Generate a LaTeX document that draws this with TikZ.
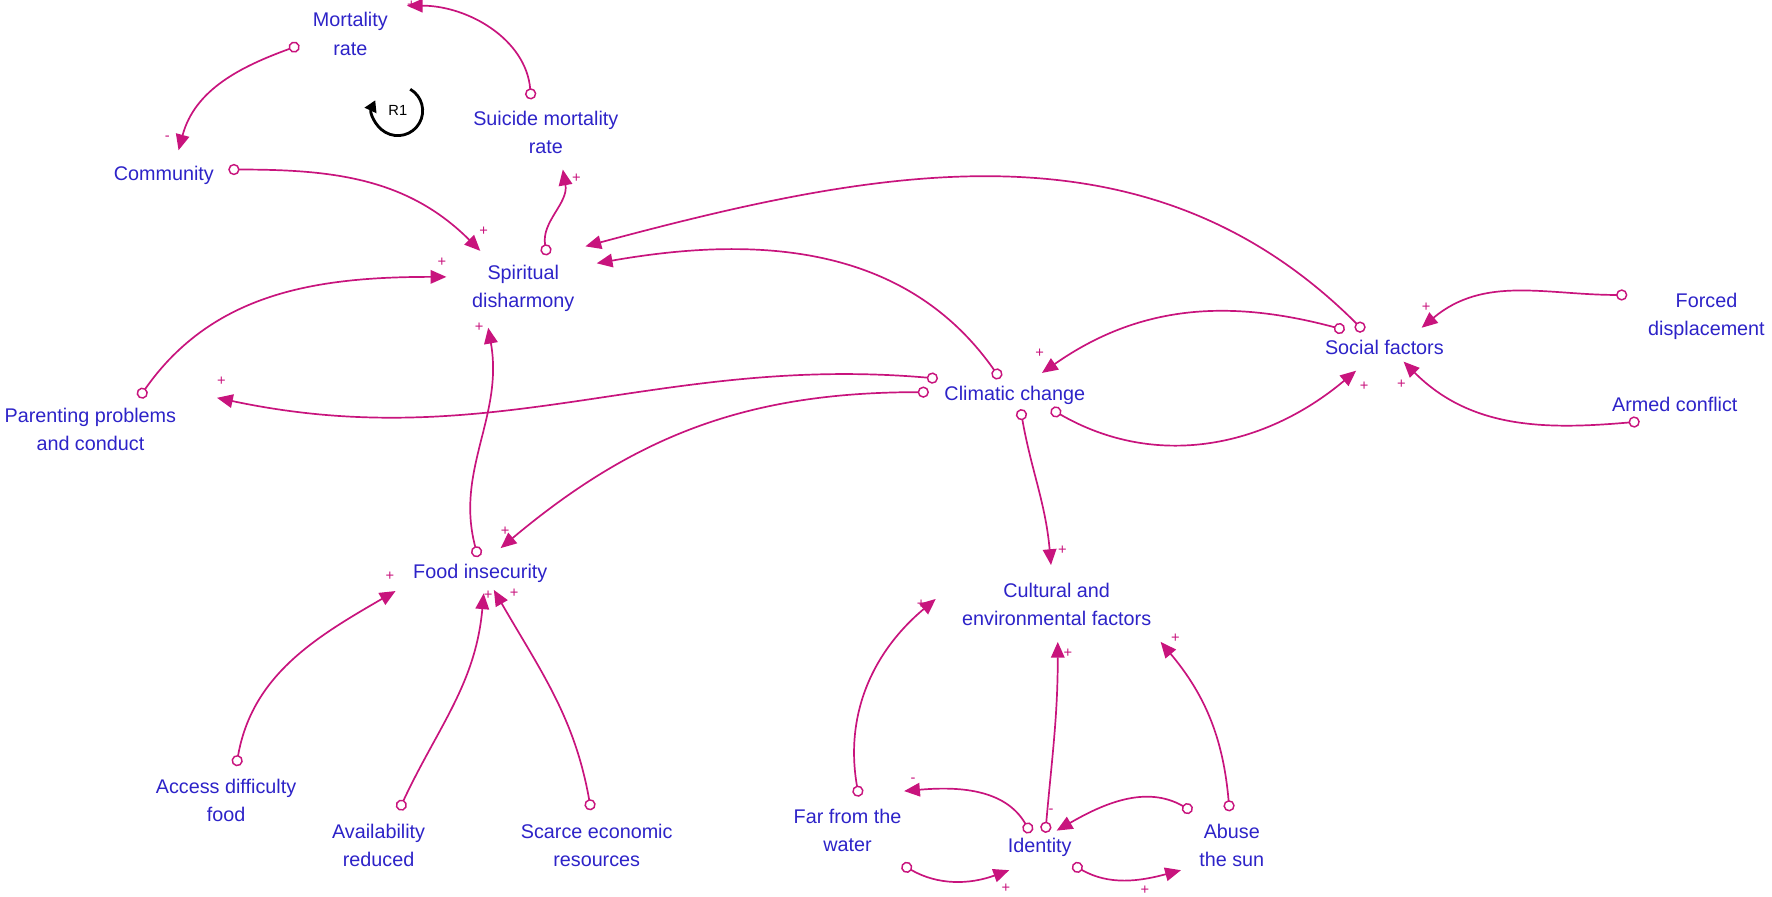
\documentclass[tikz,border=0pt]{standalone}
\usepackage{fontspec}
\setmainfont{Liberation Sans}
\usetikzlibrary{arrows.meta,calc}
\definecolor{lnk}{RGB}{200,20,125}
\definecolor{txt}{RGB}{45,35,200}
\begin{document}
\begin{tikzpicture}[x=1pt,y=-1pt,
  var/.style={text=txt,font=\fontsize{17.5}{25}\selectfont,align=center,inner sep=0pt},
  lk/.style={draw=lnk,line width=1.5pt,{Circle[open,length=10pt,width=10pt,fill=white,line width=1.3pt]}-{Triangle[length=14pt,width=12pt]}},
  sg/.style={text=lnk,font=\fontsize{13}{13}\selectfont,inner sep=0pt}]
\useasboundingbox (0,0) rectangle (1568,793);
\node[var] (mort) at (310,30) {Mortality\\rate};
\node[var] (sui) at (483,117) {Suicide mortality\\rate};
\node[var] (comm) at (145,155) {Community};
\node[var] (spir) at (463,255) {Spiritual\\disharmony};
\node[var] (par) at (80,380) {Parenting problems\\and conduct};
\node[var] (clim) at (898,350) {Climatic change};
\node[var] (soc) at (1225,307) {Social factors};
\node[var] (forc) at (1510,280) {Forced\\displacement};
\node[var] (arm) at (1482,358) {Armed conflict};
\node[var] (food) at (425,507) {Food insecurity};
\node[var] (cult) at (935,535) {Cultural and\\environmental factors};
\node[var] (acc) at (200,708) {Access difficulty\\food};
\node[var] (avail) at (335,748) {Availability\\reduced};
\node[var] (scar) at (528,748) {Scarce economic\\resources};
\node[var] (far) at (750,735) {Far from the\\water};
\node[var] (iden) at (920,750) {Identity};
\node[var] (abuse) at (1090,748) {Abuse\\the sun};

\draw[lk] ($(sui)+(-13,-29)$) to[out=95,in=0] ($(mort)+(50,-25)$);
\draw[lk] ($(mort)+(-45,10)$) to[out=200,in=75] ($(comm)+(13,-22)$);
\draw[lk] ($(comm)+(57,-5)$) to[out=0,in=135] ($(spir)+(-38,-33)$);
\draw[lk] ($(spir)+(21,-29)$) to[out=100,in=-80] ($(sui)+(15,33)$);
\draw[lk] ($(soc)+(-18,-14)$) to[out=135,in=15] ($(spir)+(55,-37)$);
\draw[lk] ($(clim)+(-13,-15)$) to[out=125,in=10] ($(spir)+(65,-22)$);
\draw[lk] ($(par)+(43,-28)$) to[out=55,in=180] ($(spir)+(-68,-10)$);
\draw[lk] ($(clim)+(-68,-15)$) to[out=175,in=-12] ($(par)+(112,-28)$);
\draw[lk] ($(clim)+(-76,-3)$) to[out=180,in=40] ($(food)+(18,-22)$);
\draw[lk] ($(food)+(-2,-14)$) to[out=105,in=-80] ($(spir)+(-31,35)$);
\draw[lk] ($(soc)+(-35,-15)$) to[out=165,in=35] ($(clim)+(24,-20)$);
\draw[lk] ($(clim)+(32,12)$) to[out=-30,in=-140] ($(soc)+(-25,21)$);
\draw[lk] ($(clim)+(5,12)$) to[out=-80,in=95] ($(cult)+(-5,-35)$);
\draw[lk] ($(forc)+(-70,-19)$) to[out=180,in=40] ($(soc)+(33,-17)$);
\draw[lk] ($(arm)+(-31,15)$) to[out=185,in=-45] ($(soc)+(17,13)$);
\draw[lk] ($(acc)+(9,-30)$) to[out=80,in=210] ($(food)+(-75,16)$);
\draw[lk] ($(avail)+(18,-31)$) to[out=65,in=-95] ($(food)+(3,18)$);
\draw[lk] ($(scar)+(-5,-31)$) to[out=100,in=-60] ($(food)+(12,15)$);
\draw[lk] ($(far)+(10,-30)$) to[out=100,in=220] ($(cult)+(-107,-5)$);
\draw[lk] ($(iden)+(-8,-13)$) to[out=120,in=5] ($(far)+(50,-35)$);
\draw[lk] ($(iden)+(5,-13)$) to[out=85,in=-90] ($(cult)+(1,33)$);
\draw[lk] ($(abuse)+(-35,-30)$) to[out=150,in=30] ($(iden)+(15,-15)$);
\draw[lk] ($(abuse)+(-2,-30)$) to[out=95,in=-50] ($(cult)+(92,33)$);
\draw[lk] ($(far)+(48,30)$) to[out=-30,in=200] ($(iden)+(-27,20)$);
\draw[lk] ($(iden)+(29,15)$) to[out=-30,in=195] ($(abuse)+(-45,22)$);

\node[sg] (s1) at (364,5) {+};
\node[sg] (s2) at (148,122) {-};
\node[sg] (s3) at (428,205) {+};
\node[sg] (s4) at (510,158) {+};
\node[sg] (s7) at (391,232) {+};
\node[sg] (s8) at (196,337) {+};
\node[sg] (s9) at (447,470) {+};
\node[sg] (s10) at (424,290) {+};
\node[sg] (s11) at (920,313) {+};
\node[sg] (s12) at (1207,342) {+};
\node[sg] (s13) at (940,487) {+};
\node[sg] (s14) at (1262,272) {+};
\node[sg] (s15) at (1240,340) {+};
\node[sg] (s16) at (345,510) {+};
\node[sg] (s17) at (432,527) {+};
\node[sg] (s18) at (455,525) {+};
\node[sg] (s19) at (815,535) {+};
\node[sg] (s20) at (808,690) {-};
\node[sg] (s21) at (945,578) {+};
\node[sg] (s22) at (930,718) {-};
\node[sg] (s23) at (1040,565) {+};
\node[sg] (s24) at (890,786) {+};
\node[sg] (s25) at (1013,788) {+};

\node[font=\fontsize{13}{13}\selectfont,inner sep=0pt] (r1) at (352,98) {R1};
\begin{scope}[shift={(r1)},y=1pt]
\draw[line width=2.5pt,-{Triangle[length=10pt,width=11pt]}] (60:22) arc[start angle=60,end angle=-205,radius=22];
\end{scope}
\end{tikzpicture}
\end{document}
